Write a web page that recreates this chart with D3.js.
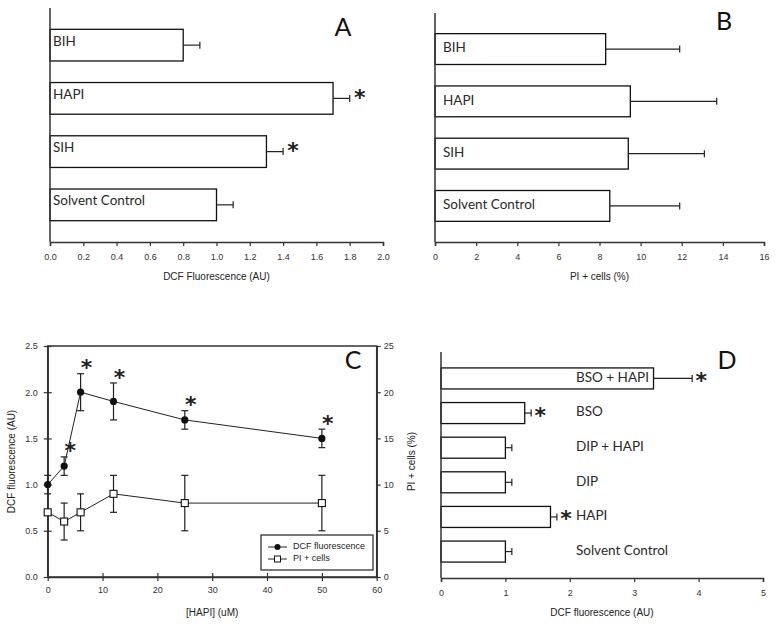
<!DOCTYPE html>
<html><head><meta charset="utf-8">
<script src="https://cdn.jsdelivr.net/npm/d3@7"></script>
<style>
body{margin:0;background:#fff;}
svg{display:block;}
.tick text{font-family:Arial,"Liberation Sans",sans-serif;font-size:9px;fill:#333;}
.domain,.tick line{stroke:#333;}
</style></head>
<body>
<svg id="chart" width="776" height="625"></svg>
<script>
// ---------- data ----------
const catsAB = ["BIH", "HAPI", "SIH", "Solvent Control"];
const dcfA = [0.8, 1.7, 1.3, 1.0];
const dcfAErr = [0.1, 0.1, 0.1, 0.1];
const sigA = [false, true, true, false];
const xTicksA = [0, 0.2, 0.4, 0.6, 0.8, 1.0, 1.2, 1.4, 1.6, 1.8, 2.0];

const piB = [8.3, 9.5, 9.4, 8.5];
const piBErr = [3.6, 4.2, 3.7, 3.4];
const xTicksB = [0, 2, 4, 6, 8, 10, 12, 14, 16];

const hapiConc = [0, 3, 6, 12, 25, 50];
const dcfC = [1.0, 1.2, 2.0, 1.9, 1.7, 1.5];
const dcfCErr = [0.1, 0.1, 0.2, 0.2, 0.1, 0.1];
const sigC = [false, true, true, true, true, true];
const piC = [7, 6, 7, 9, 8, 8];
const piCErr = [0, 2, 2, 2, 3, 3];
const xTicksC = [0, 10, 20, 30, 40, 50, 60];
const yTicksC = [0, 0.5, 1.0, 1.5, 2.0, 2.5];
const y2TicksC = [0, 5, 10, 15, 20, 25];

const catsD = ["BSO + HAPI", "BSO", "DIP + HAPI", "DIP", "HAPI", "Solvent Control"];
const dcfD = [3.3, 1.3, 1.0, 1.0, 1.7, 1.0];
const dcfDErr = [0.6, 0.1, 0.1, 0.1, 0.1, 0.1];
const sigD = [true, true, false, false, true, false];
const xTicksD = [0, 1, 2, 3, 4, 5];

// ---------- helpers ----------
const svg = d3.select("#chart");
const AX = "#333";
const labelFont = "Lato, 'Open Sans', sans-serif";
const tickFont = "Arial, 'Liberation Sans', sans-serif";

function star(g, x, cy, fs) {
  // place asterisk glyph so its visual centre is at cy
  g.append("text").attr("x", x).attr("y", cy + 0.57 * fs)
    .attr("text-anchor", "middle")
    .attr("font-family", "'DejaVu Sans', sans-serif").attr("font-size", fs)
    .attr("font-weight", "bold").attr("fill", "#222").text("*");
}

function hbarPanel(opts) {
  const { cats, vals, errs, sig, xDomain, xTicks, fmt, x0, x1, yTop, yBot,
          pIn, pOut, labelX, labelDy, title, letter, letterX, letterY, starDx, starDy, tickY, titleY } = opts;
  const g = svg.append("g");
  const x = d3.scaleLinear().domain(xDomain).range([x0, x1]);
  const y = d3.scaleBand().domain(cats).range([yTop, yBot]).paddingInner(pIn).paddingOuter(pOut);

  // bars
  g.selectAll("rect.bar").data(cats).join("rect")
    .attr("x", x(0)).attr("y", d => y(d))
    .attr("width", (d, i) => x(vals[i]) - x(0)).attr("height", y.bandwidth())
    .attr("fill", "#fff").attr("stroke", "#111").attr("stroke-width", 1.3);
  // error bars
  cats.forEach((c, i) => {
    const cy = y(c) + y.bandwidth() / 2;
    const xe = x(vals[i] + errs[i]);
    g.append("line").attr("x1", x(vals[i])).attr("x2", xe).attr("y1", cy).attr("y2", cy)
      .attr("stroke", "#222").attr("stroke-width", 1.2);
    g.append("line").attr("x1", xe).attr("x2", xe).attr("y1", cy - 3.5).attr("y2", cy + 3.5)
      .attr("stroke", "#222").attr("stroke-width", 1.2);
    if (sig[i]) star(g, xe + starDx, cy + starDy, 22);
    g.append("text").attr("x", labelX).attr("y", cy + labelDy)
      .attr("dominant-baseline", "middle")
      .attr("font-family", labelFont).attr("font-size", 13.5).attr("fill", "#2a2a2a").text(c);
  });

  // axes
  g.append("line").attr("x1", x0).attr("x2", x0).attr("y1", yTop).attr("y2", yBot)
    .attr("stroke", AX).attr("stroke-width", 1.5);
  const xa = g.append("g").attr("transform", `translate(0,${yBot})`)
    .call(d3.axisBottom(x).tickValues(xTicks).tickFormat(fmt).tickSize(4).tickPadding(tickY));
  xa.select(".domain").attr("stroke-width", 1.5);
  xa.selectAll(".tick line").attr("stroke-width", 1.2);
  g.append("text").attr("x", (x0 + x1) / 2).attr("y", titleY).attr("text-anchor", "middle")
    .attr("font-family", tickFont).attr("font-size", 10).attr("fill", "#222").text(title);
  g.append("text").attr("x", letterX).attr("y", letterY).attr("text-anchor", "middle")
    .attr("font-family", labelFont).attr("font-size", 25).attr("fill", "#111").text(letter);
}

// ---------- Panel A ----------
hbarPanel({
  cats: catsAB, vals: dcfA, errs: dcfAErr, sig: sigA,
  xDomain: [0, 2], xTicks: xTicksA, fmt: d3.format(".1f"),
  x0: 50, x1: 383, yTop: 8, yBot: 242, pIn: 0.405, pOut: 0.4,
  labelX: 53, labelDy: -3, title: "DCF Fluorescence (AU)",
  letter: "A", letterX: 343, letterY: 36, starDx: 10, starDy: -6, tickY: 8, titleY: 280
});

// ---------- Panel B ----------
hbarPanel({
  cats: catsAB, vals: piB, errs: piBErr, sig: [false, false, false, false],
  xDomain: [0, 16], xTicks: xTicksB, fmt: d3.format("d"),
  x0: 435, x1: 764, yTop: 13, yBot: 242, pIn: 0.41, pOut: 0.395,
  labelX: 443, labelDy: 0, title: "PI + cells (%)",
  letter: "B", letterX: 724, letterY: 30, starDx: 10, starDy: 0, tickY: 8, titleY: 280
});

// ---------- Panel C ----------
(function () {
  const g = svg.append("g");
  const x = d3.scaleLinear().domain([0, 60]).range([47.7, 376.7]);
  const y = d3.scaleLinear().domain([0, 2.5]).range([577, 346]);
  const y2 = d3.scaleLinear().domain([0, 25]).range([577, 346]);

  // frame
  g.append("rect").attr("x", x(0)).attr("y", y(2.5)).attr("width", x(60) - x(0)).attr("height", y(0) - y(2.5))
    .attr("fill", "none").attr("stroke", AX).attr("stroke-width", 1.5);

  const ax = g.append("g").attr("transform", `translate(0,${y(0)})`)
    .call(d3.axisBottom(x).tickValues(xTicksC).tickFormat(d3.format("d")).tickSizeInner(4).tickSizeOuter(0).tickPadding(6));
  ax.selectAll(".tick line").attr("y1", -4);
  const ay = g.append("g").attr("transform", `translate(${x(0)},0)`)
    .call(d3.axisLeft(y).tickValues(yTicksC).tickFormat(d3.format(".1f")).tickSizeInner(4).tickSizeOuter(0).tickPadding(6));
  ay.selectAll(".tick line").attr("x1", 4);
  const ay2 = g.append("g").attr("transform", `translate(${x(60)},0)`)
    .call(d3.axisRight(y2).tickValues(y2TicksC).tickFormat(d3.format("d")).tickSizeInner(4).tickSizeOuter(0).tickPadding(3));
  [ax, ay, ay2].forEach(a => { a.select(".domain").attr("stroke-width", 1.5); a.selectAll(".tick line").attr("stroke-width", 1.2); });

  const linePI = d3.line().x((d, i) => x(hapiConc[i])).y(d => y2(d));
  const lineDCF = d3.line().x((d, i) => x(hapiConc[i])).y(d => y(d));
  function errBars(vals, errs, sc) {
    vals.forEach((v, i) => {
      if (errs[i] <= 0) return;
      const cx = x(hapiConc[i]);
      g.append("line").attr("x1", cx).attr("x2", cx).attr("y1", sc(v - errs[i])).attr("y2", sc(v + errs[i]))
        .attr("stroke", "#222").attr("stroke-width", 1.2);
      [v - errs[i], v + errs[i]].forEach(e => g.append("line").attr("x1", cx - 3.5).attr("x2", cx + 3.5)
        .attr("y1", sc(e)).attr("y2", sc(e)).attr("stroke", "#222").attr("stroke-width", 1.2));
    });
  }
  errBars(piC, piCErr, y2);
  errBars(dcfC, dcfCErr, y);
  g.append("path").attr("d", linePI(piC)).attr("fill", "none").attr("stroke", "#222").attr("stroke-width", 1);
  g.append("path").attr("d", lineDCF(dcfC)).attr("fill", "none").attr("stroke", "#222").attr("stroke-width", 1);
  g.selectAll("rect.pi").data(piC).join("rect").attr("class", "pi")
    .attr("x", (d, i) => x(hapiConc[i]) - 3.5).attr("y", d => y2(d) - 3.5).attr("width", 7).attr("height", 7)
    .attr("fill", "#fff").attr("stroke", "#111").attr("stroke-width", 1.1);
  g.selectAll("circle.dcf").data(dcfC).join("circle").attr("class", "dcf")
    .attr("cx", (d, i) => x(hapiConc[i])).attr("cy", d => y(d)).attr("r", 3.6).attr("fill", "#111");
  dcfC.forEach((v, i) => { if (sigC[i]) star(g, x(hapiConc[i]) + 6, y(v + dcfCErr[i]) - 11, 22); });

  // titles
  g.append("text").attr("transform", `translate(15,${(y(0) + y(2.5)) / 2}) rotate(-90)`).attr("text-anchor", "middle")
    .attr("font-family", tickFont).attr("font-size", 10).attr("fill", "#222").text("DCF fluorescence (AU)");
  g.append("text").attr("transform", `translate(415,${(y(0) + y(2.5)) / 2}) rotate(-90)`).attr("text-anchor", "middle")
    .attr("font-family", tickFont).attr("font-size", 10).attr("fill", "#222").text("PI + cells (%)");
  g.append("text").attr("x", (x(0) + x(60)) / 2).attr("y", 616).attr("text-anchor", "middle")
    .attr("font-family", tickFont).attr("font-size", 10).attr("fill", "#222").text("[HAPI] (uM)");
  g.append("text").attr("x", 353).attr("y", 369).attr("text-anchor", "middle")
    .attr("font-family", labelFont).attr("font-size", 25).attr("fill", "#111").text("C");

  // legend
  const lg = g.append("g");
  lg.append("rect").attr("x", 261).attr("y", 535).attr("width", 112).attr("height", 35)
    .attr("fill", "#fff").attr("stroke", "#222").attr("stroke-width", 1.2);
  const items = [{ t: "DCF fluorescence", k: "c" }, { t: "PI + cells", k: "s" }];
  items.forEach((it, i) => {
    const ly = 547 + i * 12;
    lg.append("line").attr("x1", 268).attr("x2", 287).attr("y1", ly).attr("y2", ly).attr("stroke", "#222").attr("stroke-width", 1);
    if (it.k === "c") lg.append("circle").attr("cx", 277.5).attr("cy", ly).attr("r", 3).attr("fill", "#111");
    else lg.append("rect").attr("x", 274.5).attr("y", ly - 3).attr("width", 6).attr("height", 6).attr("fill", "#fff").attr("stroke", "#111");
    lg.append("text").attr("x", 293).attr("y", ly).attr("dominant-baseline", "middle")
      .attr("font-family", tickFont).attr("font-size", 9).attr("fill", "#222").text(it.t);
  });
})();

// ---------- Panel D ----------
hbarPanel({
  cats: catsD, vals: dcfD, errs: dcfDErr, sig: sigD,
  xDomain: [0, 5], xTicks: xTicksD, fmt: d3.format("d"),
  x0: 441, x1: 763, yTop: 352, yBot: 578, pIn: 0.393, pOut: 0.46,
  labelX: 576, labelDy: 0, title: "DCF fluorescence (AU)",
  letter: "D", letterX: 727, letterY: 369, starDx: 9, starDy: -3, tickY: 8, titleY: 616
});
</script>
</body></html>
